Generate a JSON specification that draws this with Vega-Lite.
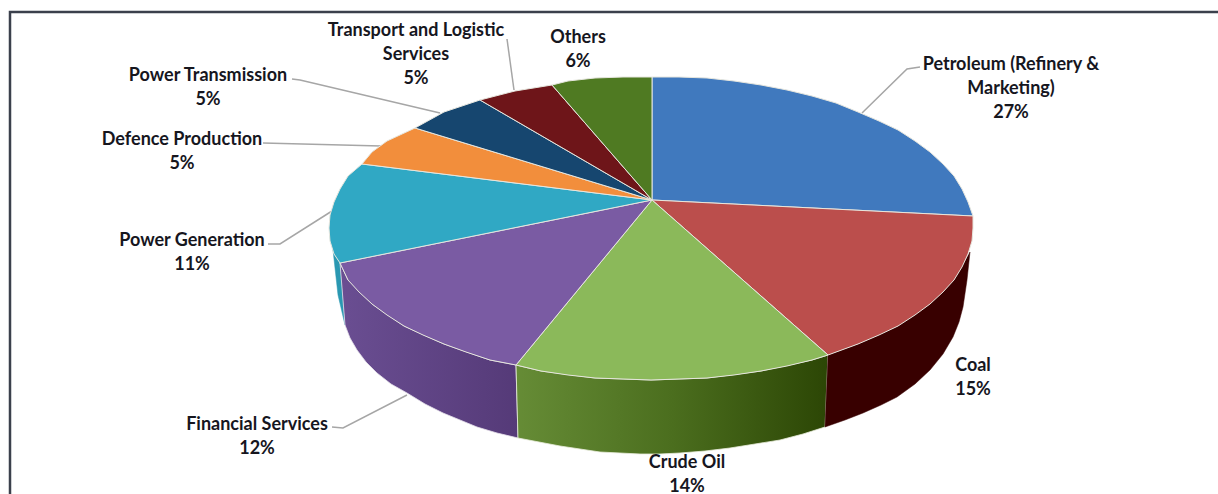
{"$schema":"https://vega.github.io/schema/vega-lite/v6.json","width":1218,"height":494,"padding":0,"autosize":{"type":"none"},"background":"#ffffff","config":{"view":{"stroke":null}},
"datasets":{
"top":[
{"s":"Petroleum","i":0,"x":652,"y":200},{"s":"Petroleum","i":1,"x":652,"y":77},{"s":"Petroleum","i":2,"x":679,"y":77},{"s":"Petroleum","i":3,"x":707,"y":78},{"s":"Petroleum","i":4,"x":734,"y":81},{"s":"Petroleum","i":5,"x":761,"y":85},{"s":"Petroleum","i":6,"x":787,"y":90},{"s":"Petroleum","i":7,"x":812,"y":96},{"s":"Petroleum","i":8,"x":836,"y":103},{"s":"Petroleum","i":9,"x":858,"y":112},{"s":"Petroleum","i":10,"x":879,"y":121},{"s":"Petroleum","i":11,"x":898,"y":130},{"s":"Petroleum","i":12,"x":915,"y":141},{"s":"Petroleum","i":13,"x":930,"y":152},{"s":"Petroleum","i":14,"x":943,"y":164},{"s":"Petroleum","i":15,"x":954,"y":176},{"s":"Petroleum","i":16,"x":962,"y":189},{"s":"Petroleum","i":17,"x":968,"y":202},{"s":"Petroleum","i":18,"x":973,"y":216},{"s":"Petroleum","i":19,"x":652,"y":200},
{"s":"Coal","i":0,"x":652,"y":200},{"s":"Coal","i":1,"x":973,"y":216},{"s":"Coal","i":2,"x":973,"y":228},{"s":"Coal","i":3,"x":972,"y":241},{"s":"Coal","i":4,"x":968,"y":254},{"s":"Coal","i":5,"x":962,"y":267},{"s":"Coal","i":6,"x":954,"y":280},{"s":"Coal","i":7,"x":943,"y":292},{"s":"Coal","i":8,"x":930,"y":304},{"s":"Coal","i":9,"x":915,"y":315},{"s":"Coal","i":10,"x":898,"y":326},{"s":"Coal","i":11,"x":879,"y":335},{"s":"Coal","i":12,"x":858,"y":344},{"s":"Coal","i":13,"x":828,"y":355},{"s":"Coal","i":14,"x":652,"y":200},
{"s":"Crude Oil","i":0,"x":652,"y":200},{"s":"Crude Oil","i":1,"x":828,"y":355},{"s":"Crude Oil","i":2,"x":812,"y":360},{"s":"Crude Oil","i":3,"x":787,"y":366},{"s":"Crude Oil","i":4,"x":761,"y":371},{"s":"Crude Oil","i":5,"x":734,"y":375},{"s":"Crude Oil","i":6,"x":707,"y":378},{"s":"Crude Oil","i":7,"x":679,"y":379},{"s":"Crude Oil","i":8,"x":651,"y":380},{"s":"Crude Oil","i":9,"x":623,"y":379},{"s":"Crude Oil","i":10,"x":595,"y":378},{"s":"Crude Oil","i":11,"x":568,"y":375},{"s":"Crude Oil","i":12,"x":541,"y":371},{"s":"Crude Oil","i":13,"x":516,"y":365},{"s":"Crude Oil","i":14,"x":652,"y":200},
{"s":"Financial Services","i":0,"x":652,"y":200},{"s":"Financial Services","i":1,"x":516,"y":365},{"s":"Financial Services","i":2,"x":490,"y":360},{"s":"Financial Services","i":3,"x":466,"y":352},{"s":"Financial Services","i":4,"x":444,"y":344},{"s":"Financial Services","i":5,"x":423,"y":335},{"s":"Financial Services","i":6,"x":404,"y":326},{"s":"Financial Services","i":7,"x":387,"y":315},{"s":"Financial Services","i":8,"x":372,"y":304},{"s":"Financial Services","i":9,"x":359,"y":292},{"s":"Financial Services","i":10,"x":348,"y":280},{"s":"Financial Services","i":11,"x":340,"y":263},{"s":"Financial Services","i":12,"x":652,"y":200},
{"s":"Power Generation","i":0,"x":652,"y":200},{"s":"Power Generation","i":1,"x":340,"y":263},{"s":"Power Generation","i":2,"x":334,"y":254},{"s":"Power Generation","i":3,"x":330,"y":241},{"s":"Power Generation","i":4,"x":329,"y":228},{"s":"Power Generation","i":5,"x":330,"y":215},{"s":"Power Generation","i":6,"x":334,"y":202},{"s":"Power Generation","i":7,"x":340,"y":189},{"s":"Power Generation","i":8,"x":348,"y":176},{"s":"Power Generation","i":9,"x":362,"y":164},{"s":"Power Generation","i":10,"x":652,"y":200},
{"s":"Defence Production","i":0,"x":652,"y":200},{"s":"Defence Production","i":1,"x":362,"y":164},{"s":"Defence Production","i":2,"x":372,"y":152},{"s":"Defence Production","i":3,"x":387,"y":141},{"s":"Defence Production","i":4,"x":415,"y":128},{"s":"Defence Production","i":5,"x":652,"y":200},
{"s":"Power Transmission","i":0,"x":652,"y":200},{"s":"Power Transmission","i":1,"x":415,"y":128},{"s":"Power Transmission","i":2,"x":444,"y":112},{"s":"Power Transmission","i":3,"x":480,"y":100},{"s":"Power Transmission","i":4,"x":652,"y":200},
{"s":"Transport and Logistic Services","i":0,"x":652,"y":200},{"s":"Transport and Logistic Services","i":1,"x":480,"y":100},{"s":"Transport and Logistic Services","i":2,"x":515,"y":91},{"s":"Transport and Logistic Services","i":3,"x":552,"y":85},{"s":"Transport and Logistic Services","i":4,"x":652,"y":200},
{"s":"Others","i":0,"x":652,"y":200},{"s":"Others","i":1,"x":552,"y":85},{"s":"Others","i":2,"x":568,"y":81},{"s":"Others","i":3,"x":595,"y":78},{"s":"Others","i":4,"x":623,"y":77},{"s":"Others","i":5,"x":652,"y":77},{"s":"Others","i":6,"x":652,"y":200}
],
"side":[
{"s":"Coal","i":0,"x":828,"y":355},{"s":"Coal","i":1,"x":858,"y":344},{"s":"Coal","i":2,"x":898,"y":326},{"s":"Coal","i":3,"x":930,"y":304},{"s":"Coal","i":4,"x":954,"y":280},{"s":"Coal","i":5,"x":970,"y":252},{"s":"Coal","i":6,"x":967,"y":280},{"s":"Coal","i":7,"x":963,"y":307},{"s":"Coal","i":8,"x":959,"y":322},{"s":"Coal","i":9,"x":953,"y":337},{"s":"Coal","i":10,"x":943,"y":354},{"s":"Coal","i":11,"x":930,"y":370},{"s":"Coal","i":12,"x":915,"y":384},{"s":"Coal","i":13,"x":897,"y":397},{"s":"Coal","i":14,"x":881,"y":405},{"s":"Coal","i":15,"x":863,"y":413},{"s":"Coal","i":16,"x":845,"y":420},{"s":"Coal","i":17,"x":825,"y":427},{"s":"Coal","i":18,"x":828,"y":355},
{"s":"Crude Oil","i":0,"x":828,"y":355},{"s":"Crude Oil","i":1,"x":812,"y":360},{"s":"Crude Oil","i":2,"x":761,"y":371},{"s":"Crude Oil","i":3,"x":707,"y":378},{"s":"Crude Oil","i":4,"x":651,"y":380},{"s":"Crude Oil","i":5,"x":595,"y":378},{"s":"Crude Oil","i":6,"x":541,"y":371},{"s":"Crude Oil","i":7,"x":516,"y":365},{"s":"Crude Oil","i":8,"x":518,"y":438},{"s":"Crude Oil","i":9,"x":539,"y":442},{"s":"Crude Oil","i":10,"x":560,"y":446},{"s":"Crude Oil","i":11,"x":580,"y":449},{"s":"Crude Oil","i":12,"x":600,"y":452},{"s":"Crude Oil","i":13,"x":620,"y":453},{"s":"Crude Oil","i":14,"x":640,"y":454},{"s":"Crude Oil","i":15,"x":660,"y":454},{"s":"Crude Oil","i":16,"x":680,"y":453},{"s":"Crude Oil","i":17,"x":705,"y":451},{"s":"Crude Oil","i":18,"x":730,"y":448},{"s":"Crude Oil","i":19,"x":755,"y":444},{"s":"Crude Oil","i":20,"x":780,"y":440},{"s":"Crude Oil","i":21,"x":803,"y":434},{"s":"Crude Oil","i":22,"x":825,"y":427},{"s":"Crude Oil","i":23,"x":828,"y":355},
{"s":"Financial Services","i":0,"x":516,"y":365},{"s":"Financial Services","i":1,"x":490,"y":360},{"s":"Financial Services","i":2,"x":444,"y":344},{"s":"Financial Services","i":3,"x":404,"y":326},{"s":"Financial Services","i":4,"x":372,"y":304},{"s":"Financial Services","i":5,"x":348,"y":280},{"s":"Financial Services","i":6,"x":340,"y":263},{"s":"Financial Services","i":7,"x":345,"y":325},{"s":"Financial Services","i":8,"x":350,"y":338},{"s":"Financial Services","i":9,"x":357,"y":350},{"s":"Financial Services","i":10,"x":366,"y":362},{"s":"Financial Services","i":11,"x":377,"y":373},{"s":"Financial Services","i":12,"x":391,"y":384},{"s":"Financial Services","i":13,"x":407,"y":393},{"s":"Financial Services","i":14,"x":425,"y":404},{"s":"Financial Services","i":15,"x":443,"y":413},{"s":"Financial Services","i":16,"x":460,"y":420},{"s":"Financial Services","i":17,"x":477,"y":427},{"s":"Financial Services","i":18,"x":497,"y":433},{"s":"Financial Services","i":19,"x":518,"y":438},{"s":"Financial Services","i":20,"x":516,"y":365},
{"s":"Power Generation","i":0,"x":333,"y":250},{"s":"Power Generation","i":1,"x":340,"y":263},{"s":"Power Generation","i":2,"x":345,"y":325},{"s":"Power Generation","i":3,"x":338,"y":295},{"s":"Power Generation","i":4,"x":333,"y":250}
],
"leaders":[
{"s":"Petroleum","i":0,"x":920,"y":67},{"s":"Petroleum","i":1,"x":907,"y":69},{"s":"Petroleum","i":2,"x":862,"y":113},
{"s":"Transport","i":0,"x":507,"y":39},{"s":"Transport","i":1,"x":514,"y":90},
{"s":"Transmission","i":0,"x":292,"y":79},{"s":"Transmission","i":1,"x":300,"y":80},{"s":"Transmission","i":2,"x":440,"y":113},
{"s":"Defence","i":0,"x":263,"y":143},{"s":"Defence","i":1,"x":381,"y":146},
{"s":"Generation","i":0,"x":268,"y":244},{"s":"Generation","i":1,"x":280,"y":244},{"s":"Generation","i":2,"x":332,"y":211},
{"s":"Financial","i":0,"x":332,"y":427},{"s":"Financial","i":1,"x":343,"y":428},{"s":"Financial","i":2,"x":407,"y":395}
],
"frame":[{"i":0,"x":10,"y":494},{"i":1,"x":10,"y":12},{"i":2,"x":1218,"y":12}],
"labels":[
{"category":"Petroleum (Refinery & Marketing)","share":27,"label":"Petroleum (Refinery &\nMarketing)\n27%","x":1011,"y":63},
{"category":"Coal","share":15,"label":"Coal\n15%","x":973,"y":364},
{"category":"Crude Oil","share":14,"label":"Crude Oil\n14%","x":687,"y":461},
{"category":"Financial Services","share":12,"label":"Financial Services\n12%","x":257,"y":423},
{"category":"Power Generation","share":11,"label":"Power Generation\n11%","x":192,"y":239},
{"category":"Defence Production","share":5,"label":"Defence Production\n5%","x":182,"y":138},
{"category":"Power Transmission","share":5,"label":"Power Transmission\n5%","x":208,"y":74},
{"category":"Transport and Logistic Services","share":5,"label":"Transport and Logistic\nServices\n5%","x":416,"y":29},
{"category":"Others","share":6,"label":"Others\n6%","x":578,"y":36}
]},
"encoding":{
"x":{"field":"x","type":"quantitative","axis":null,"scale":{"domain":[0,1218],"nice":false,"zero":false}},
"y":{"field":"y","type":"quantitative","axis":null,"scale":{"domain":[494,0],"nice":false,"zero":false}}},
"layer":[
{"data":{"name":"frame"},"mark":{"type":"line","stroke":"#3b404c","strokeWidth":2.5},"encoding":{"order":{"field":"i"}}},
{"data":{"name":"leaders"},"mark":{"type":"line","stroke":"#a6a6a6","strokeWidth":1.5},"encoding":{"detail":{"field":"s"},"order":{"field":"i"}}},
{"data":{"name":"side"},"transform":[{"filter":"datum.s==='Power Generation'"}],"mark":{"type":"line","filled":true,"fill":"#2a98b2","stroke":"#2a98b2","strokeWidth":0.5},"encoding":{"order":{"field":"i"}}},
{"data":{"name":"side"},"transform":[{"filter":"datum.s==='Financial Services'"}],"mark":{"type":"line","filled":true,"fill":{"gradient":"linear","x1":0,"y1":0,"x2":1,"y2":0,"stops":[{"offset":0,"color":"#6a4e92"},{"offset":1,"color":"#553a78"}]},"stroke":"#e4e0ea","strokeWidth":0.8},"encoding":{"order":{"field":"i"}}},
{"data":{"name":"side"},"transform":[{"filter":"datum.s==='Crude Oil'"}],"mark":{"type":"line","filled":true,"fill":{"gradient":"linear","x1":0,"y1":0,"x2":1,"y2":0,"stops":[{"offset":0,"color":"#668c36"},{"offset":0.5,"color":"#4b6e1e"},{"offset":1,"color":"#2c4605"}]},"stroke":"#e8ecdc","strokeWidth":0.8},"encoding":{"order":{"field":"i"}}},
{"data":{"name":"side"},"transform":[{"filter":"datum.s==='Coal'"}],"mark":{"type":"line","filled":true,"fill":"#380000","stroke":"#380000","strokeWidth":0.5},"encoding":{"order":{"field":"i"}}},
{"data":{"name":"top"},"mark":{"type":"line","filled":true,"stroke":"#e6e6de","strokeWidth":1,"strokeJoin":"round"},"encoding":{"fill":{"field":"s","type":"nominal","legend":null,"scale":{"domain":["Petroleum","Coal","Crude Oil","Financial Services","Power Generation","Defence Production","Power Transmission","Transport and Logistic Services","Others"],"range":["#4079be","#bb4e4c","#8bb95a","#7a5ba3","#30a8c4","#f28e3c","#16466f","#6e1519","#4f7a22"]}},"order":{"field":"i"}}},
{"data":{"name":"labels"},"mark":{"type":"text","font":"Lato","fontWeight":"bold","fontSize":18,"lineHeight":24,"lineBreak":"\n","align":"center","baseline":"middle","dy":2,"fill":"#16161e"},"encoding":{"text":{"field":"label"}}}
]}
